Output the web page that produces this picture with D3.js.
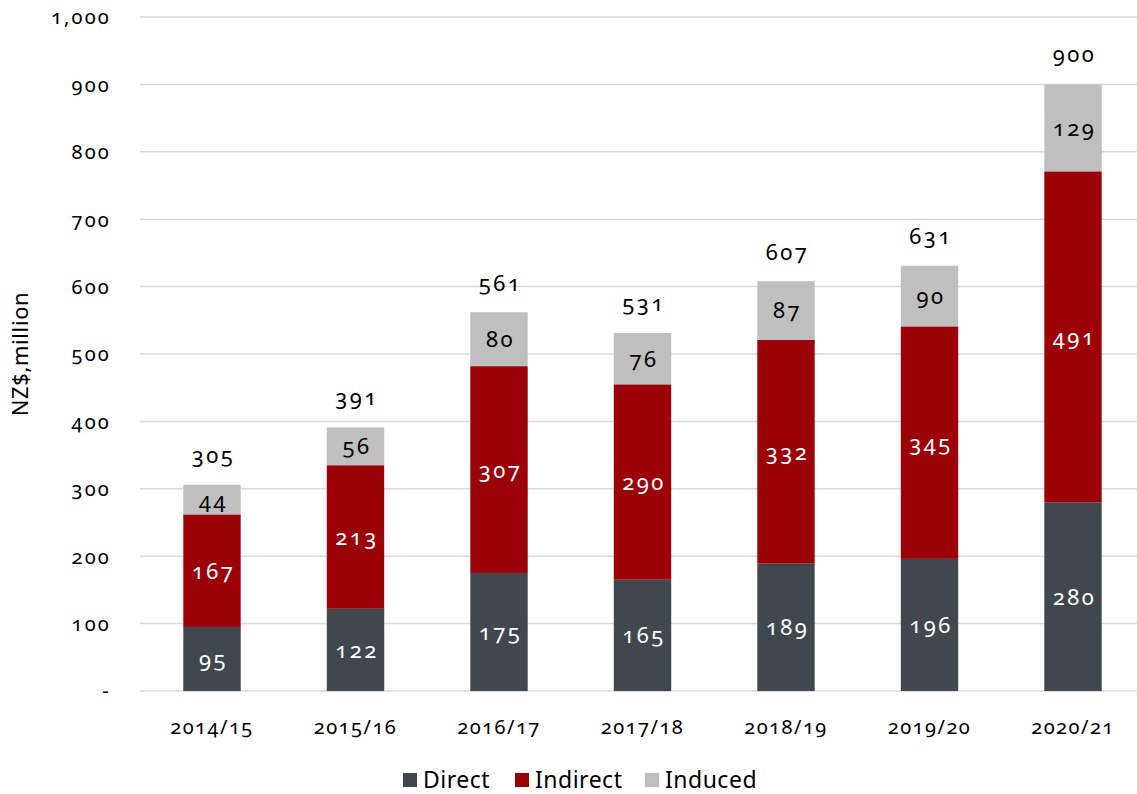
<!DOCTYPE html>
<html>
<head>
<meta charset="utf-8">
<script src="https://cdn.jsdelivr.net/npm/d3@7"></script>
<style>
  body { margin: 0; background: #fff; }
  svg text { font-family: "Noto Sans", "Open Sans", sans-serif; font-variant-numeric: oldstyle-nums; font-feature-settings: "onum" 1; }
</style>
</head>
<body>
<svg id="chart" width="1137" height="794"></svg>
<script>
// Economic contribution by year, NZ$ million
const years = ["2014/15", "2015/16", "2016/17", "2017/18", "2018/19", "2019/20", "2020/21"];
const direct   = [95, 122, 175, 165, 189, 196, 280];
const indirect = [167, 213, 307, 290, 332, 345, 491];
const induced  = [44, 56, 80, 76, 87, 90, 129];
const totals   = [305, 391, 561, 531, 607, 631, 900];
const seriesNames = ["Direct", "Indirect", "Induced"];
const yTicks = [0, 100, 200, 300, 400, 500, 600, 700, 800, 900, 1000];

const colors = { Direct: "#41474f", Indirect: "#9b0309", Induced: "#bfbfbf" };
const labelColors = { Direct: "#ffffff", Indirect: "#ffffff", Induced: "#000000" };

const svg = d3.select("#chart");

const x = d3.scaleBand().domain(years).range([140.25, 1144.75]).paddingInner(0.6).paddingOuter(0.3);
const y = d3.scaleLinear().domain([0, 1000]).range([691, 17]);

const rows = years.map((yr, i) => ({ year: yr, Direct: direct[i], Indirect: indirect[i], Induced: induced[i], total: totals[i] }));
const stacked = d3.stack().keys(seriesNames)(rows);

// gridlines
svg.append("g")
  .selectAll("line")
  .data(yTicks)
  .join("line")
  .attr("x1", 140).attr("x2", 1137)
  .attr("y1", d => y(d)).attr("y2", d => y(d))
  .attr("stroke", "#d9d9d9").attr("stroke-width", 1.5);

// y axis labels
const yAxis = d3.axisLeft(y).tickValues(yTicks).tickSize(0).tickPadding(0)
  .tickFormat(d => d === 0 ? "-" : d3.format(",")(d));
const gy = svg.append("g").attr("transform", "translate(111,0)").call(yAxis);
gy.select(".domain").remove();
gy.selectAll("text").attr("font-size", 20).attr("fill", "#000").attr("dy", "0.34em")
  .attr("letter-spacing", 2.2)
  .style("font-family", '"Noto Sans", sans-serif');

// y title
svg.append("text")
  .attr("transform", "translate(28,354) rotate(-90)")
  .attr("text-anchor", "middle")
  .attr("font-size", 22)
  .attr("letter-spacing", 0.6)
  .attr("fill", "#000")
  .text("NZ$,million");

// x axis labels
const xAxis = d3.axisBottom(x).tickSize(0).tickPadding(0);
const gx = svg.append("g").attr("transform", "translate(0,716)").call(xAxis);
gx.select(".domain").remove();
gx.selectAll("text").attr("font-size", 20).attr("fill", "#000").attr("dy", "0.9em")
  .attr("letter-spacing", 1.5)
  .style("font-family", '"Noto Sans", sans-serif');

// bars
const layers = svg.append("g").selectAll("g")
  .data(stacked)
  .join("g")
  .attr("fill", d => colors[d.key]);

layers.selectAll("rect")
  .data(d => d)
  .join("rect")
  .attr("x", d => x(d.data.year))
  .attr("width", x.bandwidth())
  .attr("y", d => y(d[1]))
  .attr("height", d => y(d[0]) - y(d[1]));

// segment labels
stacked.forEach(layer => {
  svg.append("g").selectAll("text")
    .data(layer)
    .join("text")
    .attr("x", d => x(d.data.year) + x.bandwidth() / 2 + 1.5)
    .attr("y", d => (y(d[0]) + y(d[1])) / 2)
    .attr("dy", "0.36em")
    .attr("text-anchor", "middle")
    .attr("font-size", 22)
    .attr("letter-spacing", 2.5)
    .attr("fill", labelColors[layer.key])
    .text(d => d.data[layer.key]);
});

// totals
svg.append("g").selectAll("text")
  .data(rows)
  .join("text")
  .attr("x", d => x(d.year) + x.bandwidth() / 2 + 1.5)
  .attr("y", d => y(d.total) - 22)
  .attr("text-anchor", "middle")
  .attr("font-size", 22)
  .attr("letter-spacing", 2.5)
  .attr("fill", "#000")
  .text(d => d.total);

// legend
const legendItems = [
  { name: "Direct", x: 403 },
  { name: "Indirect", x: 515 },
  { name: "Induced", x: 645 }
];
const lg = svg.append("g");
legendItems.forEach(it => {
  lg.append("rect").attr("x", it.x).attr("y", 773).attr("width", 14).attr("height", 14).attr("fill", colors[it.name]);
  lg.append("text").attr("x", it.x + 20).attr("y", 788).attr("font-size", 23)
    .attr("letter-spacing", 0.5).attr("fill", "#000").text(it.name);
});
</script>
</body>
</html>
